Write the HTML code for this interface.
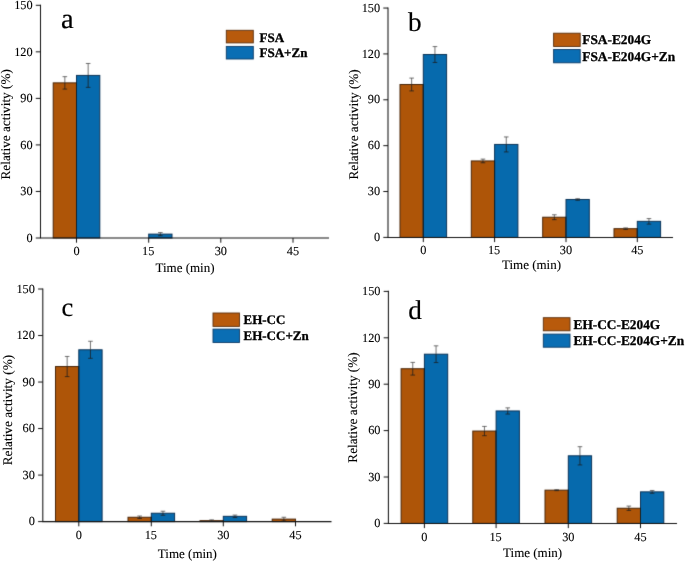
<!DOCTYPE html><html><head><meta charset="utf-8"><style>html,body{margin:0;padding:0;background:#fff;}svg{display:block;will-change:transform;}text{font-family:"Liberation Serif",serif;text-rendering:geometricPrecision;}.B{font-weight:bold;}.t{fill:#000;stroke:#000;stroke-width:0.1px;}.L{fill:#000;stroke:#000;stroke-width:0.2px;}.B{fill:#000;stroke:#000;stroke-width:0.3px;}</style></head><body>
<svg width="685" height="563" viewBox="0 0 685 563">
<defs><filter id="bl" x="0" y="0" width="685" height="563" filterUnits="userSpaceOnUse" color-interpolation-filters="sRGB"><feConvolveMatrix order="3" kernelMatrix="0.01134 0.08382 0.01134 0.08382 0.61935 0.08382 0.01134 0.08382 0.01134" edgeMode="duplicate"/></filter></defs>
<rect width="685" height="563" fill="#fff"/><g filter="url(#bl)"><rect width="685" height="563" fill="#fff"/>
<rect x="53.20" y="82.87" width="23.3" height="155.13" fill="#AE5508" stroke="#4a2608" stroke-width="1"/>
<path d="M64.85 76.66V82.87M62.55 76.66h4.6" stroke="#444" stroke-width="0.75" fill="none"/>
<path d="M64.85 82.87V89.07M62.55 89.07h4.6" stroke="#1c1c1c" stroke-width="0.75" fill="none"/>
<rect x="76.50" y="75.42" width="23.3" height="162.58" fill="#066AAD" stroke="#0a3358" stroke-width="1"/>
<path d="M88.15 63.48V75.42M85.85 63.48h4.6" stroke="#444" stroke-width="0.75" fill="none"/>
<path d="M88.15 75.42V87.37M85.85 87.37h4.6" stroke="#1c1c1c" stroke-width="0.75" fill="none"/>
<path d="M76.5 82.37V238.0" stroke="#102028" stroke-width="1"/>
<rect x="148.70" y="234.12" width="23.3" height="3.88" fill="#066AAD" stroke="#0a3358" stroke-width="1"/>
<path d="M160.35 232.57V234.12M158.05 232.57h4.6" stroke="#444" stroke-width="0.75" fill="none"/>
<path d="M160.35 234.12V235.67M158.05 235.67h4.6" stroke="#1c1c1c" stroke-width="0.75" fill="none"/>
<path d="M40.5 4.7V238.0" stroke="#111" stroke-width="1.05" fill="none"/>
<path d="M39.975 238.0H329.0" stroke="#111" stroke-width="1.05" fill="none"/>
<path d="M35.8 238.00H40.5" stroke="#111" stroke-width="1.0"/>
<path d="M35.8 191.46H40.5" stroke="#111" stroke-width="1.0"/>
<path d="M35.8 144.92H40.5" stroke="#111" stroke-width="1.0"/>
<path d="M35.8 98.38H40.5" stroke="#111" stroke-width="1.0"/>
<path d="M35.8 51.84H40.5" stroke="#111" stroke-width="1.0"/>
<path d="M35.8 5.30H40.5" stroke="#111" stroke-width="1.0"/>
<path d="M76.5 238.0V242.7" stroke="#111" stroke-width="1.0"/>
<path d="M148.7 238.0V242.7" stroke="#111" stroke-width="1.0"/>
<path d="M220.8 238.0V242.7" stroke="#111" stroke-width="1.0"/>
<path d="M293.0 238.0V242.7" stroke="#111" stroke-width="1.0"/>
<rect x="226.3" y="30.3" width="27.00" height="12.6" fill="#B85A0C" stroke="#5a2e0c" stroke-width="0.9"/>
<rect x="226.3" y="46.4" width="27.00" height="12.6" fill="#0A6EB4" stroke="#0a3a66" stroke-width="0.9"/>
<rect x="400.00" y="84.50" width="23.3" height="152.90" fill="#AE5508" stroke="#4a2608" stroke-width="1"/>
<path d="M411.65 78.08V84.50M409.35 78.08h4.6" stroke="#444" stroke-width="0.75" fill="none"/>
<path d="M411.65 84.50V90.92M409.35 90.92h4.6" stroke="#1c1c1c" stroke-width="0.75" fill="none"/>
<rect x="423.30" y="54.53" width="23.3" height="182.87" fill="#066AAD" stroke="#0a3358" stroke-width="1"/>
<path d="M434.95 46.58V54.53M432.65 46.58h4.6" stroke="#444" stroke-width="0.75" fill="none"/>
<path d="M434.95 54.53V62.48M432.65 62.48h4.6" stroke="#1c1c1c" stroke-width="0.75" fill="none"/>
<path d="M423.3 84.00V237.4" stroke="#102028" stroke-width="1"/>
<rect x="471.30" y="160.95" width="23.3" height="76.45" fill="#AE5508" stroke="#4a2608" stroke-width="1"/>
<path d="M482.95 159.12V160.95M480.65 159.12h4.6" stroke="#444" stroke-width="0.75" fill="none"/>
<path d="M482.95 160.95V162.78M480.65 162.78h4.6" stroke="#1c1c1c" stroke-width="0.75" fill="none"/>
<rect x="494.60" y="144.44" width="23.3" height="92.96" fill="#066AAD" stroke="#0a3358" stroke-width="1"/>
<path d="M506.25 136.94V144.44M503.95 136.94h4.6" stroke="#444" stroke-width="0.75" fill="none"/>
<path d="M506.25 144.44V151.93M503.95 151.93h4.6" stroke="#1c1c1c" stroke-width="0.75" fill="none"/>
<path d="M494.6 160.45V237.4" stroke="#102028" stroke-width="1"/>
<rect x="542.70" y="217.22" width="23.3" height="20.18" fill="#AE5508" stroke="#4a2608" stroke-width="1"/>
<path d="M554.35 214.77V217.22M552.05 214.77h4.6" stroke="#444" stroke-width="0.75" fill="none"/>
<path d="M554.35 217.22V219.66M552.05 219.66h4.6" stroke="#1c1c1c" stroke-width="0.75" fill="none"/>
<rect x="566.00" y="199.48" width="23.3" height="37.92" fill="#066AAD" stroke="#0a3358" stroke-width="1"/>
<path d="M577.65 198.72V199.48M575.35 198.72h4.6" stroke="#444" stroke-width="0.75" fill="none"/>
<path d="M577.65 199.48V200.25M575.35 200.25h4.6" stroke="#1c1c1c" stroke-width="0.75" fill="none"/>
<path d="M566.0 216.72V237.4" stroke="#102028" stroke-width="1"/>
<rect x="614.00" y="228.68" width="23.3" height="8.72" fill="#AE5508" stroke="#4a2608" stroke-width="1"/>
<path d="M625.65 227.92V228.68M623.35 227.92h4.6" stroke="#444" stroke-width="0.75" fill="none"/>
<path d="M625.65 228.68V229.45M623.35 229.45h4.6" stroke="#1c1c1c" stroke-width="0.75" fill="none"/>
<rect x="637.30" y="221.35" width="23.3" height="16.05" fill="#066AAD" stroke="#0a3358" stroke-width="1"/>
<path d="M648.95 218.59V221.35M646.65 218.59h4.6" stroke="#444" stroke-width="0.75" fill="none"/>
<path d="M648.95 221.35V224.10M646.65 224.10h4.6" stroke="#1c1c1c" stroke-width="0.75" fill="none"/>
<path d="M637.3 228.18V237.4" stroke="#102028" stroke-width="1"/>
<path d="M388.0 7.450000000000001V237.4" stroke="#111" stroke-width="1.05" fill="none"/>
<path d="M387.475 237.4H673.0" stroke="#111" stroke-width="1.05" fill="none"/>
<path d="M383.3 237.40H388.0" stroke="#111" stroke-width="1.0"/>
<path d="M383.3 191.53H388.0" stroke="#111" stroke-width="1.0"/>
<path d="M383.3 145.66H388.0" stroke="#111" stroke-width="1.0"/>
<path d="M383.3 99.79H388.0" stroke="#111" stroke-width="1.0"/>
<path d="M383.3 53.92H388.0" stroke="#111" stroke-width="1.0"/>
<path d="M383.3 8.05H388.0" stroke="#111" stroke-width="1.0"/>
<path d="M423.3 237.4V242.1" stroke="#111" stroke-width="1.0"/>
<path d="M494.6 237.4V242.1" stroke="#111" stroke-width="1.0"/>
<path d="M566.0 237.4V242.1" stroke="#111" stroke-width="1.0"/>
<path d="M637.3 237.4V242.1" stroke="#111" stroke-width="1.0"/>
<rect x="553.6" y="33.2" width="26.60" height="13.3" fill="#B85A0C" stroke="#5a2e0c" stroke-width="0.9"/>
<rect x="553.6" y="49.5" width="26.60" height="13.3" fill="#0A6EB4" stroke="#0a3a66" stroke-width="0.9"/>
<rect x="55.50" y="366.53" width="23.3" height="155.07" fill="#AE5508" stroke="#4a2608" stroke-width="1"/>
<path d="M67.15 356.45V366.53M64.85 356.45h4.6" stroke="#444" stroke-width="0.75" fill="none"/>
<path d="M67.15 366.53V376.61M64.85 376.61h4.6" stroke="#1c1c1c" stroke-width="0.75" fill="none"/>
<rect x="78.80" y="349.79" width="23.3" height="171.81" fill="#066AAD" stroke="#0a3358" stroke-width="1"/>
<path d="M90.45 341.26V349.79M88.15 341.26h4.6" stroke="#444" stroke-width="0.75" fill="none"/>
<path d="M90.45 349.79V358.31M88.15 358.31h4.6" stroke="#1c1c1c" stroke-width="0.75" fill="none"/>
<path d="M78.8 366.03V521.6" stroke="#102028" stroke-width="1"/>
<rect x="128.00" y="517.26" width="23.3" height="4.34" fill="#AE5508" stroke="#4a2608" stroke-width="1"/>
<path d="M139.65 516.02V517.26M137.35 516.02h4.6" stroke="#444" stroke-width="0.75" fill="none"/>
<path d="M139.65 517.26V518.50M137.35 518.50h4.6" stroke="#1c1c1c" stroke-width="0.75" fill="none"/>
<rect x="151.30" y="513.23" width="23.3" height="8.37" fill="#066AAD" stroke="#0a3358" stroke-width="1"/>
<path d="M162.95 511.21V513.23M160.65 511.21h4.6" stroke="#444" stroke-width="0.75" fill="none"/>
<path d="M162.95 513.23V515.24M160.65 515.24h4.6" stroke="#1c1c1c" stroke-width="0.75" fill="none"/>
<path d="M151.3 516.76V521.6" stroke="#102028" stroke-width="1"/>
<rect x="200.00" y="520.67" width="23.3" height="0.93" fill="#AE5508" stroke="#4a2608" stroke-width="1"/>
<path d="M211.65 519.89V520.67M209.35 519.89h4.6" stroke="#444" stroke-width="0.75" fill="none"/>
<path d="M211.65 520.67V521.44M209.35 521.44h4.6" stroke="#1c1c1c" stroke-width="0.75" fill="none"/>
<rect x="223.30" y="516.33" width="23.3" height="5.27" fill="#066AAD" stroke="#0a3358" stroke-width="1"/>
<path d="M234.95 515.09V516.33M232.65 515.09h4.6" stroke="#444" stroke-width="0.75" fill="none"/>
<path d="M234.95 516.33V517.57M232.65 517.57h4.6" stroke="#1c1c1c" stroke-width="0.75" fill="none"/>
<path d="M223.3 520.17V521.6" stroke="#102028" stroke-width="1"/>
<rect x="272.20" y="519.12" width="23.3" height="2.48" fill="#AE5508" stroke="#4a2608" stroke-width="1"/>
<path d="M283.85 517.26V519.12M281.55 517.26h4.6" stroke="#444" stroke-width="0.75" fill="none"/>
<path d="M283.85 519.12V520.98M281.55 520.98h4.6" stroke="#1c1c1c" stroke-width="0.75" fill="none"/>
<path d="M42.8 288.4V521.6" stroke="#111" stroke-width="1.05" fill="none"/>
<path d="M42.275 521.6H331.5" stroke="#111" stroke-width="1.05" fill="none"/>
<path d="M38.099999999999994 521.60H42.8" stroke="#111" stroke-width="1.0"/>
<path d="M38.099999999999994 475.08H42.8" stroke="#111" stroke-width="1.0"/>
<path d="M38.099999999999994 428.56H42.8" stroke="#111" stroke-width="1.0"/>
<path d="M38.099999999999994 382.04H42.8" stroke="#111" stroke-width="1.0"/>
<path d="M38.099999999999994 335.52H42.8" stroke="#111" stroke-width="1.0"/>
<path d="M38.099999999999994 289.00H42.8" stroke="#111" stroke-width="1.0"/>
<path d="M78.8 521.6V526.3000000000001" stroke="#111" stroke-width="1.0"/>
<path d="M151.3 521.6V526.3000000000001" stroke="#111" stroke-width="1.0"/>
<path d="M223.3 521.6V526.3000000000001" stroke="#111" stroke-width="1.0"/>
<path d="M295.5 521.6V526.3000000000001" stroke="#111" stroke-width="1.0"/>
<rect x="213.0" y="313.0" width="26.50" height="13.4" fill="#B85A0C" stroke="#5a2e0c" stroke-width="0.9"/>
<rect x="213.0" y="329.1" width="26.50" height="13.4" fill="#0A6EB4" stroke="#0a3a66" stroke-width="0.9"/>
<rect x="401.10" y="368.73" width="23.3" height="154.67" fill="#AE5508" stroke="#4a2608" stroke-width="1"/>
<path d="M412.75 362.39V368.73M410.45 362.39h4.6" stroke="#444" stroke-width="0.75" fill="none"/>
<path d="M412.75 368.73V375.07M410.45 375.07h4.6" stroke="#1c1c1c" stroke-width="0.75" fill="none"/>
<rect x="424.40" y="354.19" width="23.3" height="169.21" fill="#066AAD" stroke="#0a3358" stroke-width="1"/>
<path d="M436.05 345.84V354.19M433.75 345.84h4.6" stroke="#444" stroke-width="0.75" fill="none"/>
<path d="M436.05 354.19V362.55M433.75 362.55h4.6" stroke="#1c1c1c" stroke-width="0.75" fill="none"/>
<path d="M424.4 368.23V523.4" stroke="#102028" stroke-width="1"/>
<rect x="472.80" y="431.06" width="23.3" height="92.34" fill="#AE5508" stroke="#4a2608" stroke-width="1"/>
<path d="M484.45 426.42V431.06M482.15 426.42h4.6" stroke="#444" stroke-width="0.75" fill="none"/>
<path d="M484.45 431.06V435.70M482.15 435.70h4.6" stroke="#1c1c1c" stroke-width="0.75" fill="none"/>
<rect x="496.10" y="410.96" width="23.3" height="112.44" fill="#066AAD" stroke="#0a3358" stroke-width="1"/>
<path d="M507.75 407.86V410.96M505.45 407.86h4.6" stroke="#444" stroke-width="0.75" fill="none"/>
<path d="M507.75 410.96V414.05M505.45 414.05h4.6" stroke="#1c1c1c" stroke-width="0.75" fill="none"/>
<path d="M496.1 430.56V523.4" stroke="#102028" stroke-width="1"/>
<rect x="545.00" y="490.15" width="23.3" height="33.25" fill="#AE5508" stroke="#4a2608" stroke-width="1"/>
<path d="M556.65 489.68V490.15M554.35 489.68h4.6" stroke="#444" stroke-width="0.75" fill="none"/>
<path d="M556.65 490.15V490.61M554.35 490.61h4.6" stroke="#1c1c1c" stroke-width="0.75" fill="none"/>
<rect x="568.30" y="455.81" width="23.3" height="67.59" fill="#066AAD" stroke="#0a3358" stroke-width="1"/>
<path d="M579.95 446.69V455.81M577.65 446.69h4.6" stroke="#444" stroke-width="0.75" fill="none"/>
<path d="M579.95 455.81V464.94M577.65 464.94h4.6" stroke="#1c1c1c" stroke-width="0.75" fill="none"/>
<path d="M568.3 489.65V523.4" stroke="#102028" stroke-width="1"/>
<rect x="617.20" y="508.24" width="23.3" height="15.16" fill="#AE5508" stroke="#4a2608" stroke-width="1"/>
<path d="M628.85 506.08V508.24M626.55 506.08h4.6" stroke="#444" stroke-width="0.75" fill="none"/>
<path d="M628.85 508.24V510.41M626.55 510.41h4.6" stroke="#1c1c1c" stroke-width="0.75" fill="none"/>
<rect x="640.50" y="491.85" width="23.3" height="31.55" fill="#066AAD" stroke="#0a3358" stroke-width="1"/>
<path d="M652.15 490.46V491.85M649.85 490.46h4.6" stroke="#444" stroke-width="0.75" fill="none"/>
<path d="M652.15 491.85V493.24M649.85 493.24h4.6" stroke="#1c1c1c" stroke-width="0.75" fill="none"/>
<path d="M640.5 507.74V523.4" stroke="#102028" stroke-width="1"/>
<path d="M388.4 290.79999999999995V523.4" stroke="#111" stroke-width="1.05" fill="none"/>
<path d="M387.875 523.4H677.0" stroke="#111" stroke-width="1.05" fill="none"/>
<path d="M383.7 523.40H388.4" stroke="#111" stroke-width="1.0"/>
<path d="M383.7 477.00H388.4" stroke="#111" stroke-width="1.0"/>
<path d="M383.7 430.60H388.4" stroke="#111" stroke-width="1.0"/>
<path d="M383.7 384.20H388.4" stroke="#111" stroke-width="1.0"/>
<path d="M383.7 337.80H388.4" stroke="#111" stroke-width="1.0"/>
<path d="M383.7 291.40H388.4" stroke="#111" stroke-width="1.0"/>
<path d="M424.4 523.4V528.1" stroke="#111" stroke-width="1.0"/>
<path d="M496.1 523.4V528.1" stroke="#111" stroke-width="1.0"/>
<path d="M568.3 523.4V528.1" stroke="#111" stroke-width="1.0"/>
<path d="M640.5 523.4V528.1" stroke="#111" stroke-width="1.0"/>
<rect x="543.3" y="317.7" width="26.70" height="13.1" fill="#B85A0C" stroke="#5a2e0c" stroke-width="0.9"/>
<rect x="543.3" y="334.1" width="26.70" height="13.1" fill="#0A6EB4" stroke="#0a3a66" stroke-width="0.9"/>
</g>
<g>
<text class="t" x="32.60" y="241.70" font-size="12.3" text-anchor="end">0</text>
<text class="t" x="32.60" y="195.16" font-size="12.3" text-anchor="end">30</text>
<text class="t" x="32.60" y="148.62" font-size="12.3" text-anchor="end">60</text>
<text class="t" x="32.60" y="102.08" font-size="12.3" text-anchor="end">90</text>
<text class="t" x="32.60" y="55.54" font-size="12.3" text-anchor="end">120</text>
<text class="t" x="32.60" y="9.00" font-size="12.3" text-anchor="end">150</text>
<text class="t" x="76.50" y="255.00" font-size="12.3" text-anchor="middle">0</text>
<text class="t" x="148.20" y="255.00" font-size="12.3" text-anchor="middle">15</text>
<text class="t" x="220.80" y="255.00" font-size="12.3" text-anchor="middle">30</text>
<text class="t" x="293.00" y="255.00" font-size="12.3" text-anchor="middle">45</text>
<text class="t" x="185.00" y="271.70" font-size="13" text-anchor="middle">Time (min)</text>
<text class="t" transform="translate(10.3 124.30) rotate(-90)" font-size="13.25" text-anchor="middle">Relative activity (%)</text>
<text class="B" x="259.50" y="41.70" font-size="13.0">FSA</text>
<text class="B" x="259.50" y="57.20" font-size="13.0">FSA+Zn</text>
<text class="L" x="61.10" y="28.30" font-size="28.5">a</text>
<text class="t" x="380.10" y="241.10" font-size="12.3" text-anchor="end">0</text>
<text class="t" x="380.10" y="195.23" font-size="12.3" text-anchor="end">30</text>
<text class="t" x="380.10" y="149.36" font-size="12.3" text-anchor="end">60</text>
<text class="t" x="380.10" y="103.49" font-size="12.3" text-anchor="end">90</text>
<text class="t" x="380.10" y="57.62" font-size="12.3" text-anchor="end">120</text>
<text class="t" x="380.10" y="11.75" font-size="12.3" text-anchor="end">150</text>
<text class="t" x="423.30" y="254.40" font-size="12.3" text-anchor="middle">0</text>
<text class="t" x="494.10" y="254.40" font-size="12.3" text-anchor="middle">15</text>
<text class="t" x="566.00" y="254.40" font-size="12.3" text-anchor="middle">30</text>
<text class="t" x="637.30" y="254.40" font-size="12.3" text-anchor="middle">45</text>
<text class="t" x="531.50" y="269.00" font-size="13" text-anchor="middle">Time (min)</text>
<text class="t" transform="translate(357.7 124.40) rotate(-90)" font-size="13.25" text-anchor="middle">Relative activity (%)</text>
<text class="B" x="582.30" y="43.80" font-size="13.35">FSA-E204G</text>
<text class="B" x="582.30" y="60.80" font-size="13.35">FSA-E204G+Zn</text>
<text class="L" x="407.90" y="31.00" font-size="27.2">b</text>
<text class="t" x="34.90" y="525.30" font-size="12.3" text-anchor="end">0</text>
<text class="t" x="34.90" y="478.78" font-size="12.3" text-anchor="end">30</text>
<text class="t" x="34.90" y="432.26" font-size="12.3" text-anchor="end">60</text>
<text class="t" x="34.90" y="385.74" font-size="12.3" text-anchor="end">90</text>
<text class="t" x="34.90" y="339.22" font-size="12.3" text-anchor="end">120</text>
<text class="t" x="34.90" y="292.70" font-size="12.3" text-anchor="end">150</text>
<text class="t" x="78.80" y="539.20" font-size="12.3" text-anchor="middle">0</text>
<text class="t" x="150.80" y="539.20" font-size="12.3" text-anchor="middle">15</text>
<text class="t" x="223.30" y="539.20" font-size="12.3" text-anchor="middle">30</text>
<text class="t" x="295.50" y="539.20" font-size="12.3" text-anchor="middle">45</text>
<text class="t" x="187.40" y="557.80" font-size="13" text-anchor="middle">Time (min)</text>
<text class="t" transform="translate(11.8 410.10) rotate(-90)" font-size="13.25" text-anchor="middle">Relative activity (%)</text>
<text class="B" x="243.50" y="324.30" font-size="13.0">EH-CC</text>
<text class="B" x="243.50" y="340.30" font-size="13.0">EH-CC+Zn</text>
<text class="L" x="61.50" y="316.20" font-size="26.4">c</text>
<text class="t" x="380.50" y="527.10" font-size="12.3" text-anchor="end">0</text>
<text class="t" x="380.50" y="480.70" font-size="12.3" text-anchor="end">30</text>
<text class="t" x="380.50" y="434.30" font-size="12.3" text-anchor="end">60</text>
<text class="t" x="380.50" y="387.90" font-size="12.3" text-anchor="end">90</text>
<text class="t" x="380.50" y="341.50" font-size="12.3" text-anchor="end">120</text>
<text class="t" x="380.50" y="295.10" font-size="12.3" text-anchor="end">150</text>
<text class="t" x="424.40" y="540.70" font-size="12.3" text-anchor="middle">0</text>
<text class="t" x="495.60" y="540.70" font-size="12.3" text-anchor="middle">15</text>
<text class="t" x="568.30" y="540.70" font-size="12.3" text-anchor="middle">30</text>
<text class="t" x="640.50" y="540.70" font-size="12.3" text-anchor="middle">45</text>
<text class="t" x="532.60" y="556.50" font-size="13" text-anchor="middle">Time (min)</text>
<text class="t" transform="translate(357.0 407.50) rotate(-90)" font-size="13.25" text-anchor="middle">Relative activity (%)</text>
<text class="B" x="573.50" y="328.60" font-size="13.35">EH-CC-E204G</text>
<text class="B" x="573.50" y="345.00" font-size="13.35">EH-CC-E204G+Zn</text>
<text class="L" x="408.20" y="318.80" font-size="27.2">d</text>
</g>
</svg></body></html>
